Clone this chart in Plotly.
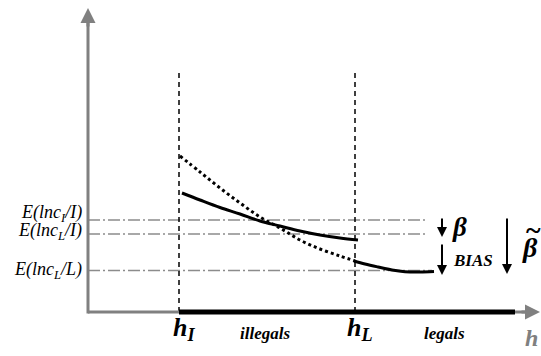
import plotly.graph_objects as go

# ---- data (diagram coordinates: x to the right, y upward) ----
illegal_x = [182, 200, 220, 240, 260, 280, 300, 320, 340, 358]
illegal_y = [163, 156, 148.5, 142, 135, 130, 125, 121, 118, 116]

dotted_x = [180, 200, 220, 240, 260, 280, 300, 320, 340, 355]
dotted_y = [200, 184, 168, 153, 139, 128, 116, 107, 100, 95]

legal_x = [354, 365, 378, 392, 405, 420, 434]
legal_y = [95, 92, 89, 86, 84.3, 84, 84.5]

level_names = ["E(lnc<sub>I</sub>/I)", "E(lnc<sub>L</sub>/I)", "E(lnc<sub>L</sub>/L)"]
level_values = [136, 122, 85.5]
level_label_y = [142.5, 125, 86]

threshold_names = ["h<sub>I</sub>", "h<sub>L</sub>"]
threshold_x = [179, 355]

group_names = ["illegals", "legals"]
group_x = [265, 444]

ORIGIN = (88, 44)
AX_END_X = 540
AX_END_Y = 348
V_TOP = 284
BAR_END = 515
LEVEL_END = [425, 425, 432]

FONT = "Liberation Serif"

fig = go.Figure()

# horizontal dash-dot expectation levels
for v, xe in zip(level_values, LEVEL_END):
    fig.add_trace(go.Scatter(x=[ORIGIN[0], xe], y=[v, v], mode="lines",
                             line=dict(color="#8c8c8c", width=1.5, dash="12px,3px,2px,3px"),
                             hoverinfo="skip", showlegend=False))

# vertical dashed thresholds
for tx in threshold_x:
    fig.add_trace(go.Scatter(x=[tx, tx], y=[ORIGIN[1], V_TOP], mode="lines",
                             line=dict(color="black", width=1.5, dash="5px,4px"),
                             hoverinfo="skip", showlegend=False))

# axes lines
fig.add_trace(go.Scatter(x=[ORIGIN[0], ORIGIN[0]], y=[ORIGIN[1] - 1.5, AX_END_Y - 6], mode="lines",
                         line=dict(color="#808080", width=3), hoverinfo="skip", showlegend=False))
fig.add_trace(go.Scatter(x=[ORIGIN[0], AX_END_X - 6], y=[ORIGIN[1], ORIGIN[1]], mode="lines",
                         line=dict(color="#808080", width=3), hoverinfo="skip", showlegend=False))
# thick support bar
fig.add_trace(go.Scatter(x=[threshold_x[0], BAR_END], y=[ORIGIN[1], ORIGIN[1]], mode="lines",
                         line=dict(color="black", width=5), hoverinfo="skip", showlegend=False))

# curves
fig.add_trace(go.Scatter(x=dotted_x, y=dotted_y, mode="lines", line_shape="spline",
                         line=dict(color="black", width=3, dash="dot"),
                         hoverinfo="skip", showlegend=False))
fig.add_trace(go.Scatter(x=illegal_x, y=illegal_y, mode="lines", line_shape="spline",
                         line=dict(color="black", width=3), hoverinfo="skip", showlegend=False))
fig.add_trace(go.Scatter(x=legal_x, y=legal_y, mode="lines", line_shape="spline",
                         line=dict(color="black", width=3), hoverinfo="skip", showlegend=False))

ann = []
# axis arrowheads
ann.append(dict(x=ORIGIN[0], y=AX_END_Y, ax=ORIGIN[0], ay=AX_END_Y - 20, xref="x", yref="y",
                axref="x", ayref="y", showarrow=True, arrowhead=2, arrowsize=1, arrowwidth=3,
                arrowcolor="#808080", text=""))
ann.append(dict(x=AX_END_X, y=ORIGIN[1], ax=AX_END_X - 20, ay=ORIGIN[1], xref="x", yref="y",
                axref="x", ayref="y", showarrow=True, arrowhead=2, arrowsize=1, arrowwidth=3,
                arrowcolor="#808080", text=""))
# beta / bias arrows
for (x0, y0, y1) in [(442, 139, 119), (442, 113, 81), (507, 139, 82)]:
    ann.append(dict(x=x0, y=y1, ax=x0, ay=y0, xref="x", yref="y", axref="x", ayref="y",
                    showarrow=True, arrowhead=2, arrowsize=1, arrowwidth=2,
                    arrowcolor="black", text=""))

# level labels
for name, ly in zip(level_names, level_label_y):
    ann.append(dict(x=84, y=ly, xref="x", yref="y", text="<i>" + name + "</i>",
                    showarrow=False, xanchor="right", yanchor="middle",
                    font=dict(family=FONT, size=18, color="black")))
# threshold labels
for name, tx in zip(threshold_names, threshold_x):
    ann.append(dict(x=tx + 5, y=27, xref="x", yref="y", text="<b><i>" + name + "</i></b>",
                    showarrow=False, xanchor="center", yanchor="middle",
                    font=dict(family=FONT, size=26, color="black")))
for name, gx in zip(group_names, group_x):
    ann.append(dict(x=gx, y=23, xref="x", yref="y", text="<b><i>" + name + "</i></b>",
                    showarrow=False, xanchor="center", yanchor="middle",
                    font=dict(family=FONT, size=17, color="black")))
ann.append(dict(x=531, y=18, xref="x", yref="y", text="<b><i>h</i></b>", showarrow=False,
                xanchor="center", yanchor="middle",
                font=dict(family=FONT, size=24, color="#808080")))
ann.append(dict(x=459, y=129, xref="x", yref="y", text="<b><i>β</i></b>", showarrow=False,
                xanchor="center", yanchor="middle", font=dict(family=FONT, size=27, color="black")))
ann.append(dict(x=473, y=96, xref="x", yref="y", text="<b><i>BIAS</i></b>", showarrow=False,
                xanchor="center", yanchor="middle", font=dict(family=FONT, size=17, color="black")))
ann.append(dict(x=530, y=109, xref="x", yref="y", text="<b><i>β</i></b>", showarrow=False,
                xanchor="center", yanchor="middle", font=dict(family=FONT, size=28, color="black")))
ann.append(dict(x=533, y=127, xref="x", yref="y", text="<b>~</b>", showarrow=False,
                xanchor="center", yanchor="middle", font=dict(family=FONT, size=28, color="black")))

fig.update_layout(
    width=541, height=356, margin=dict(l=0, r=0, t=0, b=0),
    paper_bgcolor="white", plot_bgcolor="white",
    xaxis=dict(range=[0, 541], visible=False, fixedrange=True),
    yaxis=dict(range=[0, 356], visible=False, fixedrange=True),
    annotations=ann, showlegend=False,
)

fig.write_html(
    "out.html",
    config={"displayModeBar": False, "staticPlot": True},
    post_script="document.body.style.margin='0';document.body.style.overflow='hidden';"
                "document.documentElement.style.overflow='hidden';",
)
